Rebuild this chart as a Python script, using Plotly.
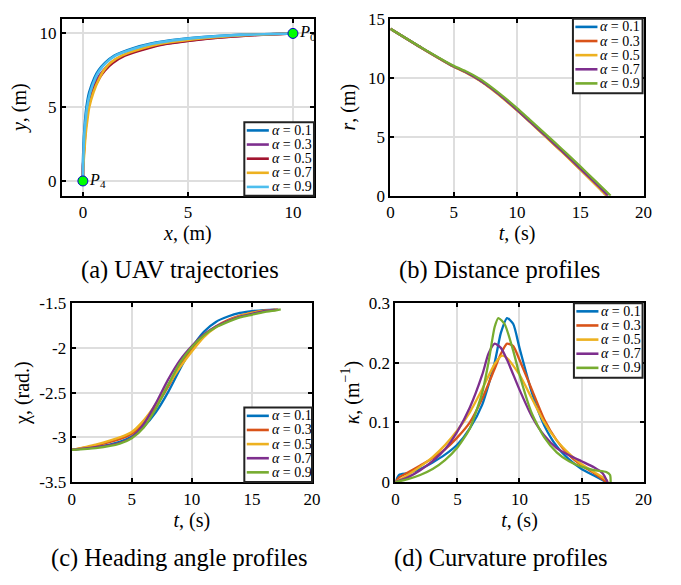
import plotly.graph_objects as go

# ---------------- data ----------------
alphas = ["0.1", "0.3", "0.5", "0.7", "0.9"]

# (a) trajectories: y sample points, x per series
traj_y = [0, 1, 2, 3, 4, 5, 6, 7, 7.5, 8, 8.5, 9, 9.3, 9.6, 9.8, 9.9, 10]
traj_x = {
    "0.1": [0, 0.0, 0.02, 0.05, 0.1, 0.17, 0.3, 0.55, 0.75, 1.05, 1.5, 2.4, 3.2, 4.6, 6.2, 7.5, 10],
    "0.3": [0, 0.01, 0.04, 0.08, 0.14, 0.22, 0.4, 0.72, 0.98, 1.32, 1.9, 3.0, 3.9, 5.5, 7.1, 8.2, 10],
    "0.5": [0, 0.01, 0.05, 0.1, 0.16, 0.25, 0.45, 0.8, 1.05, 1.42, 2.0, 3.1, 4.0, 5.6, 7.2, 8.3, 10],
    "0.7": [0, 0.02, 0.07, 0.12, 0.2, 0.3, 0.5, 0.8, 1.0, 1.3, 1.85, 2.85, 3.7, 5.2, 6.8, 8.0, 10],
    "0.9": [0, 0.01, 0.03, 0.06, 0.12, 0.2, 0.35, 0.6, 0.8, 1.1, 1.55, 2.5, 3.3, 4.7, 6.3, 7.6, 10],
}
waypoints_x = [10, 0]
waypoints_y = [10, 0]
waypoint_labels = ["<i>P</i><sub>0</sub>", "<i>P</i><sub>4</sub>"]

# (b) distance profiles
dist_t = {
    "0.1": [0, 2.5, 5, 6, 7, 8, 9, 10, 11, 12, 13, 14, 15, 16, 17, 17.05],
    "0.3": [0, 2.5, 5, 6, 7, 8, 9, 10, 11, 12, 13, 14, 15, 16, 17, 17.05],
    "0.5": [0, 2.5, 5, 6, 7, 8, 9, 10, 11, 12, 13, 14, 15, 16, 17, 17.1],
    "0.7": [0, 2.5, 5, 6, 7, 8, 9, 10, 11, 12, 13, 14, 15, 16, 17, 17.2],
    "0.9": [0, 2.5, 5, 6, 7, 8, 9, 10, 11, 12, 13, 14, 15, 16, 17, 17.4],
}
dist_r = {
    "0.1": [14.14, 12.5, 10.95, 10.45, 9.83, 9.07, 8.2, 7.27, 6.3, 5.3, 4.3, 3.3, 2.25, 1.2, 0.1, 0],
    "0.3": [14.14, 12.5, 10.95, 10.45, 9.83, 9.07, 8.2, 7.27, 6.3, 5.3, 4.3, 3.3, 2.25, 1.2, 0.1, 0],
    "0.5": [14.14, 12.48, 10.92, 10.4, 9.78, 9.02, 8.15, 7.22, 6.25, 5.25, 4.25, 3.25, 2.2, 1.15, 0.1, 0],
    "0.7": [14.14, 12.5, 10.95, 10.45, 9.83, 9.07, 8.2, 7.27, 6.3, 5.32, 4.33, 3.33, 2.3, 1.27, 0.22, 0],
    "0.9": [14.14, 12.52, 11.0, 10.52, 9.93, 9.18, 8.33, 7.42, 6.45, 5.48, 4.5, 3.5, 2.48, 1.45, 0.42, 0],
}

# (c) heading angle profiles
head_t = [0, 2, 4, 5, 6, 7, 8, 9, 10, 11, 12, 13, 14, 15, 16, 17]
head_end_t = {"0.1": 17.0, "0.3": 17.05, "0.5": 17.1, "0.7": 17.2, "0.9": 17.4}
head_chi = {
    "0.1": [-3.14, -3.11, -3.05, -2.99, -2.88, -2.72, -2.50, -2.24, -2.00, -1.82, -1.71, -1.65, -1.61, -1.59, -1.578, -1.572],
    "0.3": [-3.14, -3.09, -3.02, -2.96, -2.84, -2.66, -2.44, -2.20, -2.02, -1.86, -1.76, -1.69, -1.64, -1.605, -1.585, -1.573],
    "0.5": [-3.14, -3.08, -3.00, -2.94, -2.81, -2.63, -2.42, -2.22, -2.04, -1.88, -1.77, -1.70, -1.645, -1.61, -1.587, -1.574],
    "0.7": [-3.14, -3.11, -3.06, -3.00, -2.85, -2.62, -2.36, -2.14, -1.98, -1.85, -1.76, -1.70, -1.65, -1.62, -1.59, -1.575],
    "0.9": [-3.14, -3.12, -3.07, -3.01, -2.89, -2.68, -2.42, -2.17, -1.99, -1.86, -1.77, -1.71, -1.66, -1.63, -1.60, -1.58],
}
head_end_chi = -1.571

# (d) curvature profiles
curv_t = {
    "0.1": [0, 0.3, 1, 2, 3, 4, 5, 6, 7, 8, 8.5, 9, 9.5, 10, 11, 12, 13, 14, 15, 16, 17],
    "0.3": [0, 0.3, 1, 2, 3, 4, 5, 6, 7, 8, 8.5, 9, 9.5, 10, 11, 12, 13, 14, 15, 16, 17],
    "0.5": [0, 1, 2, 3, 4, 5, 6, 7, 8, 8.6, 9, 10, 11, 12, 13, 14, 15, 16, 17, 17.1],
    "0.7": [0, 1, 2, 3, 4, 5, 6, 7, 7.5, 8, 8.5, 9, 10, 11, 12, 13, 14, 15, 16, 16.7, 17.1],
    "0.9": [0, 1, 2, 3, 4, 5, 6, 7, 7.5, 8, 8.3, 8.8, 9.5, 10, 11, 12, 13, 14, 15, 16, 17, 17.3, 17.35],
}
curv_k = {
    "0.1": [0, 0.012, 0.015, 0.022, 0.033, 0.046, 0.063, 0.09, 0.13, 0.2, 0.25, 0.275, 0.265, 0.225, 0.15, 0.095, 0.06, 0.038, 0.022, 0.011, 0.0],
    "0.3": [0, 0.008, 0.016, 0.028, 0.04, 0.055, 0.075, 0.1, 0.14, 0.19, 0.215, 0.232, 0.228, 0.205, 0.155, 0.105, 0.07, 0.045, 0.028, 0.015, 0.0],
    "0.5": [0, 0.012, 0.026, 0.042, 0.062, 0.087, 0.117, 0.156, 0.198, 0.212, 0.208, 0.18, 0.14, 0.1, 0.07, 0.048, 0.03, 0.017, 0.004, 0],
    "0.7": [0, 0.008, 0.02, 0.035, 0.055, 0.085, 0.125, 0.18, 0.215, 0.232, 0.225, 0.205, 0.155, 0.11, 0.078, 0.057, 0.045, 0.035, 0.025, 0.015, 0],
    "0.9": [0, 0.005, 0.012, 0.022, 0.037, 0.058, 0.09, 0.15, 0.2, 0.26, 0.275, 0.265, 0.22, 0.18, 0.115, 0.075, 0.05, 0.035, 0.026, 0.02, 0.017, 0.012, 0],
}

captions = ["(a) UAV trajectories", "(b) Distance profiles",
            "(c) Heading angle profiles", "(d) Curvature profiles"]

colors_a = ["#0072BD", "#7E2F8E", "#A2142F", "#EDB120", "#4DBEEE"]
colors_b = ["#0072BD", "#D95319", "#EDB120", "#7E2F8E", "#77AC30"]

# ---------------- figure ----------------
W, H = 681, 585
FONT = "Liberation Serif, Times New Roman, serif"


def px_x(a, b):
    return [a / W, b / W]


def px_y(top, bottom):
    return [1 - bottom / H, 1 - top / H]


fig = go.Figure()

for i, a in enumerate(alphas):
    fig.add_trace(go.Scatter(x=traj_x[a], y=traj_y, mode="lines", showlegend=False,
                             line=dict(color=colors_a[i], width=2.6, shape="spline", smoothing=0.6),
                             xaxis="x", yaxis="y"))
fig.add_trace(go.Scatter(x=waypoints_x, y=waypoints_y, mode="markers+text",
                         text=waypoint_labels, textposition="middle right",
                         textfont=dict(family=FONT, size=16, color="black"),
                         marker=dict(color="#00FF00", size=10, line=dict(color="#0000CC", width=1)),
                         showlegend=False, xaxis="x", yaxis="y", cliponaxis=False))

for i, a in enumerate(alphas):
    fig.add_trace(go.Scatter(x=dist_t[a], y=dist_r[a], mode="lines", showlegend=False,
                             line=dict(color=colors_b[i], width=2.3, shape="spline", smoothing=0.5),
                             xaxis="x2", yaxis="y2"))

for i, a in enumerate(alphas):
    fig.add_trace(go.Scatter(x=head_t + [head_end_t[a]], y=head_chi[a] + [head_end_chi], mode="lines",
                             showlegend=False,
                             line=dict(color=colors_b[i], width=2.3, shape="spline", smoothing=0.6),
                             xaxis="x3", yaxis="y3"))

for i, a in enumerate(alphas):
    fig.add_trace(go.Scatter(x=curv_t[a], y=curv_k[a], mode="lines", showlegend=False,
                             line=dict(color=colors_b[i], width=2.3, shape="spline", smoothing=0.6),
                             xaxis="x4", yaxis="y4", cliponaxis=False))

tickfont = dict(family=FONT, size=17, color="black")
titlefont = dict(family=FONT, size=20, color="black")


def axis(domain, rng, title, tickvals, ticktext=None, anchor=None, standoff=6):
    d = dict(domain=domain, range=rng, tickvals=tickvals, showgrid=True,
             gridcolor="#dedede", gridwidth=2, zeroline=False,
             showline=True, linecolor="black", linewidth=2, mirror="allticks",
             ticks="inside", ticklen=4, tickwidth=1.5, tickcolor="black",
             tickfont=tickfont, title=dict(text=title, font=titlefont, standoff=standoff),
             anchor=anchor, fixedrange=True)
    if ticktext is not None:
        d["ticktext"] = ticktext
    return d


xa = px_x(59, 316); ya = px_y(10, 193)
xb = px_x(394, 652); yb = px_y(10, 193)
xc = px_x(69, 314); yc = px_y(304, 489)
xd = px_x(399, 652); yd = px_y(304, 489)

layout = dict(
    width=W, height=H, margin=dict(l=0, r=0, t=0, b=0),
    paper_bgcolor="white", plot_bgcolor="white",
    font=dict(family=FONT, color="black"),
    showlegend=False,
    xaxis=axis(xa, [-1, 11], "<i>x</i>, (m)", [0, 5, 10], anchor="y", standoff=2),
    yaxis=axis(ya, [-1, 11], "<i>y</i>, (m)", [0, 5, 10], anchor="x", standoff=7),
    xaxis2=axis(xb, [0, 20], "<i>t</i>, (s)", [0, 5, 10, 15, 20], anchor="y2", standoff=2),
    yaxis2=axis(yb, [0, 15], "<i>r</i>, (m)", [0, 5, 10, 15], anchor="x2", standoff=7),
    xaxis3=axis(xc, [0, 20], "<i>t</i>, (s)", [0, 5, 10, 15, 20], anchor="y3", standoff=2),
    yaxis3=axis(yc, [-3.5, -1.5], "χ, (rad.)", [-3.5, -3, -2.5, -2, -1.5],
                ticktext=["-3.5", "-3", "-2.5", "-2", "-1.5"], anchor="x3", standoff=4),
    xaxis4=axis(xd, [0, 20], "<i>t</i>, (s)", [0, 5, 10, 15, 20], anchor="y4", standoff=2),
    yaxis4=axis(yd, [0, 0.3], "<i>κ</i>, (m<sup>−1</sup>)", [0, 0.1, 0.2, 0.3], anchor="x4", standoff=4),
)
fig.update_layout(**layout)

# manual legends (box, sample lines, labels) in pixel positions of the page
legend_boxes = [  # left, top, right, bottom
    (245, 117, 316, 193, colors_a),
    (580, 10, 651, 87, colors_b),
    (245, 412, 314, 489, colors_b),
    (581, 304, 651, 381, colors_b),
]
for (l, t, r, b, cols) in legend_boxes:
    fig.add_shape(type="rect", xref="paper", yref="paper",
                  x0=l / W, x1=r / W, y0=1 - b / H, y1=1 - t / H,
                  line=dict(color="#222222", width=2), fillcolor="white", layer="above")
    for i, a in enumerate(alphas):
        yy = t + 8.5 + 14.6 * i
        fig.add_shape(type="line", xref="paper", yref="paper",
                      x0=(l + 2.5) / W, x1=(l + 25) / W, y0=1 - yy / H, y1=1 - yy / H,
                      line=dict(color=cols[i], width=2.6), layer="above")
        fig.add_annotation(text="<i>α</i> = " + a, x=(l + 26) / W, y=1 - yy / H,
                           xref="paper", yref="paper", showarrow=False,
                           xanchor="left", yanchor="middle",
                           font=dict(family=FONT, size=14, color="black"))

cap_pos = [(179, 270), (505, 270), (178, 567), (507, 567)]
for text, (cx, cy) in zip(captions, cap_pos):
    fig.add_annotation(text=text, x=cx / W, y=1 - cy / H, xref="paper", yref="paper",
                       showarrow=False, xanchor="center", yanchor="middle",
                       font=dict(family=FONT, size=24.5, color="black"))

fig.write_html("out.html", config={"displayModeBar": False})
